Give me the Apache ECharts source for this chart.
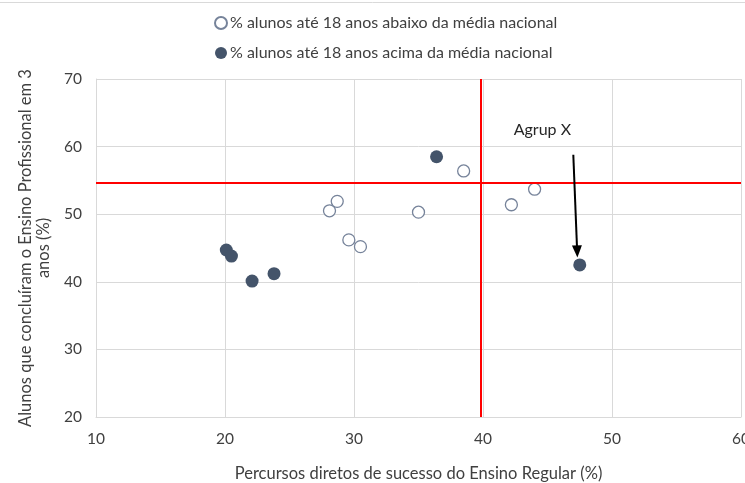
<!DOCTYPE html>
<html>
<head>
<meta charset="utf-8">
<script src="https://cdn.jsdelivr.net/npm/echarts@6/dist/echarts.min.js"></script>
<style>
  html, body { margin: 0; padding: 0; background: #fff; }
  #chart { width: 745px; height: 483px; }
</style>
</head>
<body>
<div id="chart"></div>
<script>
// abaixo da média nacional (círculos abertos)
const abaixoX = [28.1, 28.7, 29.6, 30.5, 35.0, 38.5, 42.2, 44.0];
const abaixoY = [50.5, 51.9, 46.2, 45.2, 50.3, 56.4, 51.4, 53.7];
// acima da média nacional (círculos cheios)
const acimaX = [20.1, 20.5, 22.1, 23.8, 36.4, 47.5];
const acimaY = [44.7, 43.8, 40.1, 41.2, 58.5, 42.5];

const mediaX = 39.8;
const mediaY = 54.6;

const seriesNames = [
  '% alunos até 18 anos abaixo da média nacional',
  '% alunos até 18 anos acima da média nacional'
];
const xName = 'Percursos diretos de sucesso do Ensino Regular (%)';
const yName = 'Alunos que concluíram o Ensino Profissional em 3\nanos (%)';
const anotacao = 'Agrup X';
const anotacaoPos = [44.6, 62.5];
const setaInicio = [47.0, 58.8];
const setaFim = [47.3, 44.5];

const font = 'Lato, "Open Sans", sans-serif';
const chart = echarts.init(document.getElementById('chart'));

const pairs = (xs, ys) => xs.map((x, i) => [x, ys[i]]);

chart.setOption({
  animation: false,
  backgroundColor: '#fff',
  textStyle: { fontFamily: font },
  legend: {
    orient: 'vertical',
    left: 209,
    top: 10,
    itemGap: 14,
    itemWidth: 12,
    itemHeight: 12,
    icon: 'circle',
    textStyle: { fontSize: 16, color: '#404040', padding: [0, 0, 0, -2] },
    data: seriesNames
  },
  grid: { left: 96, right: 4, top: 79, bottom: 66, containLabel: false, outerBoundsMode: 'none' },
  xAxis: {
    type: 'value',
    min: 10, max: 60, interval: 10,
    name: xName,
    nameLocation: 'middle',
    nameGap: 48,
    nameTextStyle: { fontSize: 16.5, color: '#404040' },
    axisLine: { show: true, lineStyle: { color: '#d9d9d9' } },
    axisTick: { show: false },
    axisLabel: { fontSize: 15.5, color: '#404040', margin: 14 },
    splitLine: { lineStyle: { color: '#d9d9d9' } }
  },
  yAxis: {
    type: 'value',
    min: 20, max: 70, interval: 10,
    name: yName,
    nameLocation: 'middle',
    nameGap: 40,
    nameTextStyle: { fontSize: 16.5, color: '#404040', lineHeight: 18 },
    axisLine: { show: true, lineStyle: { color: '#d9d9d9' } },
    axisTick: { show: false },
    axisLabel: { fontSize: 15.5, color: '#404040', margin: 14 },
    splitLine: { lineStyle: { color: '#d9d9d9' } }
  },
  series: [
    {
      name: seriesNames[0],
      type: 'scatter',
      symbolSize: 12,
      itemStyle: { color: '#fff', borderColor: '#76839a', borderWidth: 1.3, opacity: 1 },
      data: pairs(abaixoX, abaixoY),
      z: 3
    },
    {
      name: seriesNames[1],
      type: 'scatter',
      symbolSize: 13,
      itemStyle: { color: '#44546a', opacity: 1 },
      data: pairs(acimaX, acimaY),
      z: 3,
      markLine: {
        silent: true,
        symbol: 'none',
        label: { show: false },
        lineStyle: { color: '#ff0000', width: 2, type: 'solid' },
        data: [{ xAxis: mediaX }, { yAxis: mediaY }]
      }
    },
    {
      type: 'scatter',
      silent: true,
      symbolSize: 0,
      data: [],
      markLine: {
        silent: true,
        symbol: ['none', 'triangle'],
        symbolSize: [10, 12],
        label: { show: false },
        lineStyle: { color: '#000', width: 2, type: 'solid' },
        data: [[{ coord: setaInicio }, { coord: setaFim }]]
      },
      markPoint: {
        silent: true,
        symbol: 'rect',
        symbolSize: 1,
        itemStyle: { color: 'transparent' },
        label: { show: true, formatter: anotacao, fontSize: 16, color: '#262626', fontFamily: font },
        data: [{ coord: anotacaoPos }]
      }
    }
  ],
  graphic: [
    {
      type: 'line',
      shape: { x1: 0, y1: 2.5, x2: 745, y2: 2.5 },
      style: { stroke: '#d9d9d9', lineWidth: 1 }
    }
  ]
});
</script>
</body>
</html>
